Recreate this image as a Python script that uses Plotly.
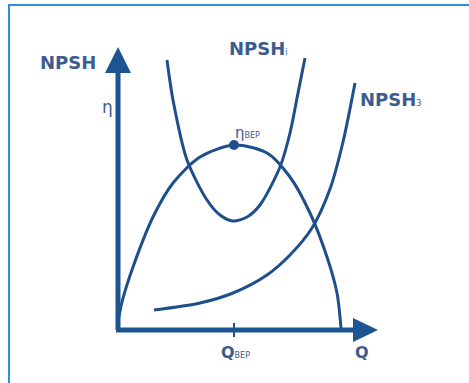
import plotly.graph_objects as go

# values: Q to the right of the origin, head / efficiency upward
eta_q = [0, 4, 15, 35, 55, 82, 116, 149, 172, 192, 209, 219, 223]
eta_v = [8, 28, 63, 113, 147, 173, 185, 177, 153, 117, 73, 37, 2]

npshi_q = [49, 55, 69, 89, 102, 115, 129, 142, 162, 172, 180, 187]
npshi_v = [270, 230, 170, 130, 115, 109, 113, 125, 163, 197, 237, 272]

npsh3_q = [36, 82, 115, 149, 172, 194, 212, 225, 237]
npsh3_v = [20, 27, 37, 55, 75, 102, 141, 188, 247]

q_bep = 116
eta_bep = 185

CURVE = "#1f4f8a"
AXIS = "#1c5591"
TEXT = "#3d5c8e"

fig = go.Figure()
for q, v in [(eta_q, eta_v), (npshi_q, npshi_v), (npsh3_q, npsh3_v)]:
    fig.add_trace(go.Scatter(x=q, y=v, mode="lines",
                             line=dict(color=CURVE, width=3, shape="spline", smoothing=0.8),
                             hoverinfo="skip"))
fig.add_trace(go.Scatter(x=[q_bep], y=[eta_bep], mode="markers",
                         marker=dict(color=CURVE, size=10), hoverinfo="skip"))

shapes = [
    # axes
    dict(type="line", x0=0, y0=0, x1=0, y1=258, line=dict(color=AXIS, width=5)),
    dict(type="line", x0=-2, y0=0, x1=236, y1=0, line=dict(color=AXIS, width=5)),
    dict(type="path", path="M -13 257 L 13 257 L 0 283 Z", fillcolor=AXIS, line=dict(width=0)),
    dict(type="path", path="M 235 -12 L 235 12 L 260 0 Z", fillcolor=AXIS, line=dict(width=0)),
    # tick at Q_BEP
    dict(type="line", x0=q_bep, y0=-7, x1=q_bep, y1=7, line=dict(color=AXIS, width=2)),
    # frame (right and bottom edges fall outside the picture)
    dict(type="rect", xref="paper", yref="paper", x0=9 / 469, x1=1.2, y0=-0.2, y1=1 - 5 / 383,
         line=dict(color="#2a90d8", width=2)),
]

F = "DejaVu Sans"
small = "<span style='font-size:8px'>%s</span>"
ann = [
    dict(x=-80, y=268, text="<b>NPSH</b>", size=18),
    dict(x=-18, y=223, text="η", size=17),
    dict(x=109, y=282, text="<b>NPSH</b>" + small % "i", size=18),
    dict(x=240, y=231, text="<b>NPSH</b>" + small % "3", size=18),
    dict(x=115, y=197, text="η" + small % "BEP", size=15),
    dict(x=101, y=-22, text="<b>Q</b>" + small % "BEP", size=16),
    dict(x=235, y=-22, text="<b>Q</b>", size=16),
]
annotations = [dict(x=a["x"], y=a["y"], xref="x", yref="y", text=a["text"], showarrow=False,
                    xanchor="left", yanchor="middle",
                    font=dict(family=F, size=a["size"], color=TEXT)) for a in ann]

fig.update_layout(
    width=469, height=383,
    margin=dict(l=0, r=0, t=0, b=0),
    paper_bgcolor="white", plot_bgcolor="white",
    showlegend=False,
    xaxis=dict(range=[-118, 351], visible=False, fixedrange=True),
    yaxis=dict(range=[-53, 330], visible=False, fixedrange=True),
    shapes=shapes, annotations=annotations,
)
fig.write_html("out.html", config={"displayModeBar": False},
               post_script="document.body.style.margin='0';document.body.style.overflow='hidden';")
